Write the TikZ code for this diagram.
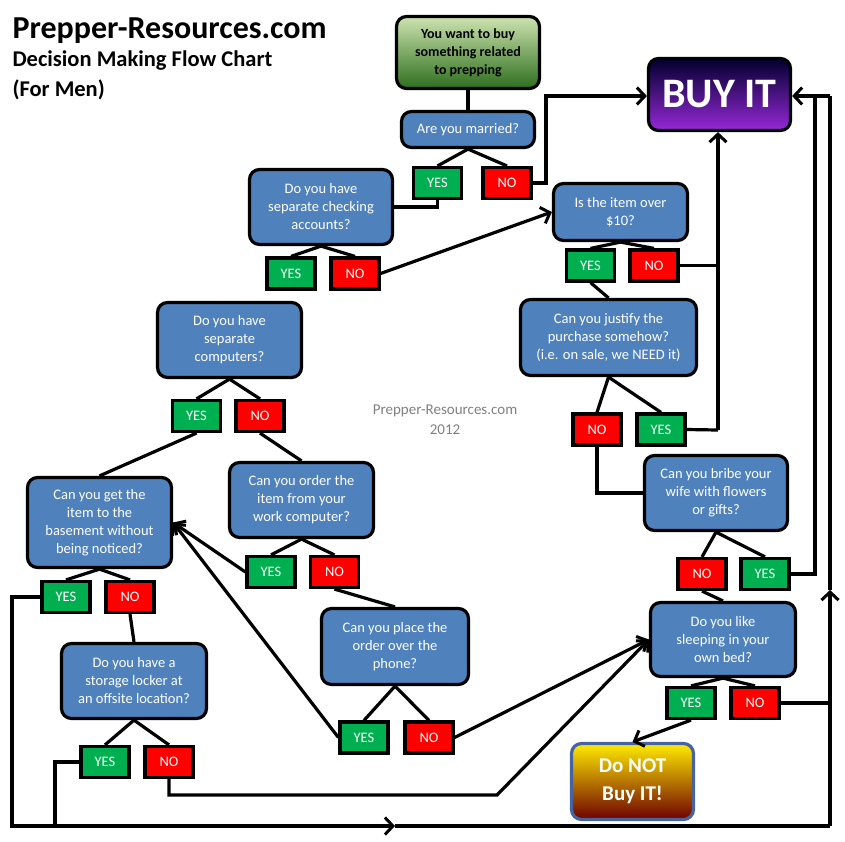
\documentclass[tikz,border=0pt]{standalone}
\usepackage{fontspec}
\setmainfont{Carlito}
\usetikzlibrary{arrows.meta}
\definecolor{qblue}{RGB}{79,129,189}
\definecolor{ygreen}{RGB}{0,176,80}
\definecolor{nred}{RGB}{255,0,0}
\tikzset{
  q/.style={draw, line width=3.2pt, rounded corners=10pt, fill=qblue, text=white, align=center, font=\fontsize{14.5}{18}\selectfont, inner sep=1pt},
  yn/.style={draw, line width=3.2pt, text=white, minimum width=48pt, minimum height=31pt, font=\fontsize{14.5}{15}\selectfont, inner sep=0pt},
  yesb/.style={yn, fill=ygreen},
  nob/.style={yn, fill=nred},
  ln/.style={line width=3.2pt},
  arr/.style={ln, -{Straight Barb[length=8pt,width=17pt,line width=3pt]}},
}
\begin{document}
\begin{tikzpicture}[x=1pt,y=-1pt]
\useasboundingbox (0,0) rectangle (845,841);
% title
\node[anchor=west, font=\bfseries\fontsize{32}{34}\selectfont] (t1) at (9,31) {Prepper-Resources.com};
\node[anchor=west, font=\bfseries\fontsize{22.5}{24}\selectfont] (t2) at (9,61) {Decision Making Flow Chart};
\node[anchor=west, font=\bfseries\fontsize{22.5}{24}\selectfont] (t3) at (9,90) {(For Men)};
\node[text=gray, align=center, font=\fontsize{15}{20}\selectfont] (wm) at (445,420) {Prepper-Resources.com\\2012};
% boxes
\node[q, minimum width=143pt, minimum height=72pt, text=black, font=\bfseries\fontsize{14}{18}\selectfont, top color={rgb,255:red,205;green,228;blue,175}, bottom color={rgb,255:red,45;green,110;blue,30}] (start) at (468,52.5) {You want to buy\\something related\\to prepping};
\node[q, minimum width=133pt, minimum height=36pt] (married) at (468,129.5) {Are you married?};
\node[yesb] (y1) at (437.5,183) {YES};
\node[nob] (n1) at (507,183) {NO};
\node[q, minimum width=142pt, minimum height=72pt, font=\bfseries\fontsize{42}{44}\selectfont, top color={rgb,255:red,0;green,0;blue,45}, middle color={rgb,255:red,35;green,10;blue,215}, bottom color={rgb,255:red,150;green,40;blue,215}] (buy) at (719.5,94.5) {BUY IT};
\node[q, minimum width=143pt, minimum height=75pt] (check) at (321,207) {Do you have\\separate checking\\accounts?};
\node[q, minimum width=134pt, minimum height=57pt] (over) at (620.5,212) {Is the item over\\\$10?};
\node[yesb] (y2) at (291,273.5) {YES};
\node[nob] (n2) at (355,273.5) {NO};
\node[yesb] (y3) at (590.5,265.5) {YES};
\node[nob] (n3) at (654,265.5) {NO};
\node[q, minimum width=144pt, minimum height=75pt] (comp) at (229.5,340) {Do you have\\separate\\computers?};
\node[q, minimum width=176pt, minimum height=76pt] (just) at (608.5,337.5) {Can you justify the\\purchase somehow?\\(i.e. on sale, we NEED it)};
\node[yesb] (y4) at (196.5,416) {YES};
\node[nob] (n4) at (260,416) {NO};
\node[nob] (n5) at (597,429.5) {NO};
\node[yesb] (y5) at (661,429.5) {YES};
\node[q, minimum width=144pt, minimum height=75pt] (work) at (301.5,500) {Can you order the\\item from your\\work computer?};
\node[q, minimum width=144pt, minimum height=90pt] (base) at (99.5,522.5) {Can you get the\\item to the\\basement without\\being noticed?};
\node[q, minimum width=143pt, minimum height=75pt] (bribe) at (716,493) {Can you bribe your\\wife with flowers\\or gifts?};
\node[yesb] (y6) at (271,572) {YES};
\node[nob] (n6) at (334.5,572) {NO};
\node[yesb] (y7) at (66,597) {YES};
\node[nob] (n7) at (130,597) {NO};
\node[nob] (n8) at (702,574) {NO};
\node[yesb] (y8) at (765,574) {YES};
\node[q, minimum width=147pt, minimum height=76pt] (phone) at (395,646.5) {Can you place the\\order over the\\phone?};
\node[q, minimum width=145pt, minimum height=74pt] (sleep) at (723,639.5) {Do you like\\sleeping in your\\own bed?};
\node[q, minimum width=145pt, minimum height=75pt] (locker) at (134,681) {Do you have a\\storage locker at\\an offsite location?};
\node[yesb] (y9) at (364,737.5) {YES};
\node[nob] (n9) at (429,737.5) {NO};
\node[yesb] (y10) at (691,703) {YES};
\node[nob] (n10) at (755,703) {NO};
\node[yesb] (y11) at (105,762) {YES};
\node[nob] (n11) at (169,762) {NO};
\node[q, draw={rgb,255:red,70;green,100;blue,160}, minimum width=122pt, minimum height=76pt, font=\bfseries\fontsize{21}{28}\selectfont, top color={rgb,255:red,255;green,235;blue,0}, middle color={rgb,255:red,245;green,40;blue,0}, bottom color={rgb,255:red,110;green,0;blue,0}] (dont) at (632.5,781.5) {Do NOT\\Buy IT!};
% helper coordinates
\coordinate (rx1) at (546,96);
\coordinate (vx) at (718,430);
\coordinate (r815) at (815,96);
\coordinate (r830t) at (830,96);
\coordinate (r830m) at (830,590);
\coordinate (r830b) at (830,826);
\coordinate (bl) at (12,826);
\coordinate (bmid) at (395,826);
\coordinate (b55) at (55,826);
\coordinate (n11a) at (169,795);
\coordinate (n11b) at (497,795);
% connectors
\draw[ln] (start.south) -- (married.north);
\draw[ln] (married.south) -- (y1.north);
\draw[ln] (married.south) -- (n1.north);
\draw[arr] (n1.east) -| (rx1) -- (buy.west |- rx1);
\draw[ln] (y1.south) |- (check.east);
\draw[ln] (check.south) -- (y2.north);
\draw[ln] (check.south) -- (n2.north);
\draw[arr] (n2.east) -- (over.west);
\draw[ln] (over.south) -- (y3.north);
\draw[ln] (over.south) -- (n3.north);
\draw[ln] (n3.east) -- (vx |- n3.east);
\draw[ln] (y5.east) -- (vx);
\draw[arr] (vx) -- (vx |- buy.south);
\draw[ln] (y3.south) -- (just.north);
\draw[ln] (just.south) -- (n5.north);
\draw[ln] (just.south) -- (y5.north);
\draw[ln] (n5.south) |- (bribe.west);
\draw[ln] (bribe.south) -- (n8.north);
\draw[ln] (bribe.south) -- (y8.north);
\draw[ln] (y8.east) -| (r815);
\draw[arr] (r830t) -- (buy.east |- r830t);
\draw[arr] (r830b) -- (r830m);
\draw[ln] (r830m) -- (r830t);
\draw[ln] (n8.south) -- (sleep.north);
\draw[ln] (sleep.south) -- (y10.north);
\draw[ln] (sleep.south) -- (n10.north);
\draw[arr] (y10.south) -- (dont.north);
\draw[ln] (n10.east) -- (r830b |- n10.east);
\draw[ln] (comp.south) -- (y4.north);
\draw[ln] (comp.south) -- (n4.north);
\draw[ln] (y4.south) -- (base.north);
\draw[ln] (n4.south) -- (work.north);
\draw[ln] (work.south) -- (y6.north);
\draw[ln] (work.south) -- (n6.north);
\draw[arr] (y6.west) -- (base.east);
\draw[ln] (n6.south) -- (phone.north);
\draw[ln] (phone.south) -- (y9.north);
\draw[ln] (phone.south) -- (n9.north);
\draw[arr] (y9.west) -- (base.east);
\draw[arr] (n9.east) -- (sleep.west);
\draw[ln] (base.south) -- (y7.north);
\draw[ln] (base.south) -- (n7.north);
\draw[arr] (y7.west) -| (bl) -- (bmid);
\draw[ln] (bmid) -- (r830b);
\draw[ln] (n7.south) -- (locker.north);
\draw[ln] (locker.south) -- (y11.north);
\draw[ln] (locker.south) -- (n11.north);
\draw[ln] (y11.west) -| (b55);
\draw[arr] (n11.south) -- (n11a) -- (n11b) -- (sleep.west);
\end{tikzpicture}
\end{document}
